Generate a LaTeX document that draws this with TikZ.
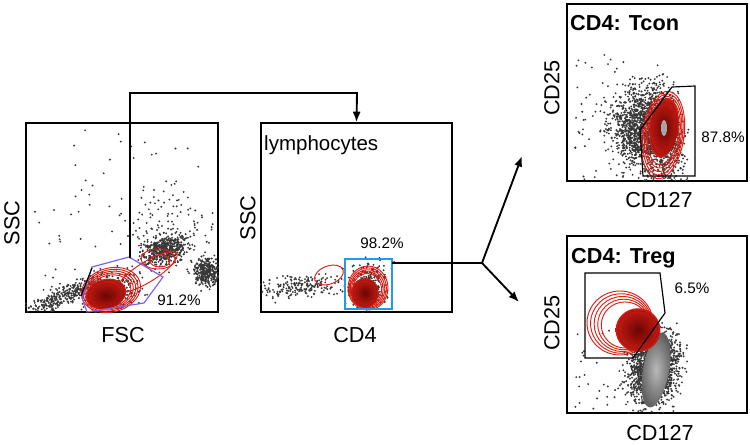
\documentclass[tikz,border=0pt]{standalone}
\usepackage{fontspec}
\setmainfont{Liberation Sans}
\usetikzlibrary{arrows.meta}

\definecolor{ringred}{RGB}{225,30,20}
\definecolor{corered}{RGB}{105,6,3}
\definecolor{gatepurple}{RGB}{125,95,235}
\definecolor{gateblue}{RGB}{35,155,230}
\definecolor{dotgray}{RGB}{55,55,55}

\tikzset{
  panel/.style={draw, line width=1.3pt, inner sep=0pt},
  axlab/.style={font=\fontsize{18.5}{20}\selectfont},
  title/.style={font=\bfseries\fontsize{18.5}{20}\selectfont, anchor=base west, inner sep=0pt},
  pct/.style={font=\fontsize{13}{15}\selectfont},
  flow/.style={line width=1.6pt, -{Latex[length=9pt,width=7pt]}},
  ring/.style={draw=ringred, line width=0.8pt},
  gate/.style={line width=1pt},
}

% gaussian-ish cloud of events: cx, cy, sx, sy, tilt, count
\newcommand{\dotcloud}[6]{%
  \foreach \k in {1,...,#6}{%
    \pgfmathsetmacro\du{(rnd+rnd+rnd-1.5)*#3}%
    \pgfmathsetmacro\dv{(rnd+rnd+rnd-1.5)*#4}%
    \fill[dotgray] ({#1+(\du)*cos(#5)-(\dv)*sin(#5)},{#2+(\du)*sin(#5)+(\dv)*cos(#5)}) circle (0.9pt);
  }}
% uniform scatter: x0, x1, y0, y1, count
\newcommand{\dotspread}[5]{%
  \foreach \k in {1,...,#5}{%
    \fill[dotgray] ({#1+rnd*(#2-#1)},{#3+rnd*(#4-#3)}) circle (0.9pt);
  }}
% density contours: outer centre, core centre, rx, ry, tilt
\newcommand{\contours}[7]{%
  \foreach \t in {0,0.07,0.14,0.21,0.28}{%
    \draw[ring, rotate around={#7:({#1+\t*(#3-#1)},{#2+\t*(#4-#2)})}]
      ({#1+\t*(#3-#1)},{#2+\t*(#4-#2)}) ellipse ({#5*(1-\t)} and {#6*(1-\t)});
  }
  \shade[inner color=corered, outer color=ringred!90!black, rotate around={#7:(#3,#4)}]
    (#3,#4) ellipse ({#5*0.68} and {#6*0.68});
  \foreach \t in {0.45,0.6}{%
    \draw[ringred!70!black, line width=0.5pt, rotate around={#7:(#3,#4)}]
      (#3,#4) ellipse ({#5*\t} and {#6*\t});
  }
}

\begin{document}
\begin{tikzpicture}[x=0.03cm, y=-0.03cm]
    \useasboundingbox (0,0) rectangle (750,444);
    \pgfmathsetseed{7}

    % Panels
    \node[panel, minimum width=5.76cm, minimum height=5.67cm] (fsc) at (122,217.5) {};
    \node[panel, minimum width=5.73cm, minimum height=5.67cm] (lym) at (356.5,217.5) {};
    \node[panel, minimum width=5.4cm, minimum height=5.31cm] (tcon) at (657,92.5) {};
    \node[panel, minimum width=5.4cm, minimum height=5.31cm] (treg) at (657,324.5) {};

    % FSC / SSC
    \begin{scope}
        \clip (fsc.south west) rectangle (fsc.north east);
        \dotspread{70}{215}{128}{250}{40}
        \dotspread{35}{90}{200}{290}{15}
        \dotcloud{165}{228}{45}{38}{0}{110}
        \dotcloud{62}{297}{42}{9}{-23}{320}
        \dotcloud{165}{250}{22}{14}{-15}{480}
        \dotcloud{206}{272}{13}{14}{-30}{320}
        \dotcloud{112}{290}{32}{20}{-15}{200}
        \draw[ring, rotate around={32:(147,272)}] (147,272) ellipse (35 and 10);
        \draw[ring] (158,259) ellipse (17 and 10);
        \draw[ring] (160,261) ellipse (10 and 6);
        \contours{111}{290}{106}{294}{30}{22}{15}
        \draw[gatepurple, gate] (82,298) -- (92,267) -- (129,257) -- (163,277) -- (144,303) -- (87,312) -- cycle;
        \draw[gate] (81,296) -- (92,268);
    \end{scope}
    \node[axlab, rotate=90] (ssc1) at (12,223) {SSC};
    \node[axlab] (fsclab) at (123,335) {FSC};
    \node[pct] (p912) at (179,300) {91.2\%};

    % lymphocytes
    \begin{scope}
        \clip (lym.south west) rectangle (lym.north east);
        \dotcloud{303}{286}{42}{11}{-5}{200}
        \dotspread{340}{395}{255}{300}{25}
        \dotcloud{367}{287}{18}{20}{0}{260}
        \draw[ring, rotate around={20:(329,275)}] (329,275) ellipse (15 and 9);
        \contours{368}{288}{365}{293}{20}{22}{0}
        \draw[gateblue, line width=1.1pt] (345,259) rectangle (392,309);
    \end{scope}
    \node[title, font=\fontsize{17.5}{19}\selectfont] (lymtitle) at (264,150) {lymphocytes};
    \node[axlab, rotate=90] (ssc2) at (248,218) {SSC};
    \node[axlab] (cd4) at (355,335) {CD4};
    \node[pct] (p982) at (382,243) {98.2\%};

    % CD4: Tcon
    \begin{scope}
        \clip (tcon.south west) rectangle (tcon.north east);
        \dotspread{575}{640}{55}{180}{60}
        \dotcloud{640}{130}{28}{38}{-10}{1100}
        \dotcloud{662}{133}{20}{48}{-8}{900}
        \contours{663}{135}{664}{128}{21}{44}{-8}
        \fill[gray!70] (664,128) ellipse (3 and 8);
        \draw[gate] (672,87) -- (695,86) -- (695,176) -- (643,176) -- (640,130) -- cycle;
    \end{scope}
    \node[title] (tcontitle) at (570,30) {CD4: Tcon};
    \node[axlab, rotate=90] (cd25a) at (552,88) {CD25};
    \node[axlab] (cd127a) at (659,200) {CD127};
    \node[pct] (p878) at (723,137) {87.8\%};

    % CD4: Treg
    \begin{scope}
        \clip (treg.south west) rectangle (treg.north east);
        \dotspread{575}{620}{330}{410}{25}
        \dotcloud{653}{367}{24}{36}{10}{1700}
        \shade[inner color=gray!55, outer color=gray!75!black, rotate around={-10:(656,370)}] (656,370) ellipse (13 and 38);
        \contours{620}{323}{638}{330}{33}{32}{0}
        \draw[gate] (585,273) -- (660,273) -- (665,313) -- (633,358) -- (585,358) -- cycle;
    \end{scope}
    \node[title] (tregtitle) at (571,263) {CD4: Treg};
    \node[axlab, rotate=90] (cd25b) at (552,323) {CD25};
    \node[axlab] (cd127b) at (660,433) {CD127};
    \node[pct] (p65) at (692,288) {6.5\%};

    % Gating flow
    \coordinate (fscgate) at (130,258);
    \coordinate (bend) at (357,93);
    \draw[flow] (fscgate) |- (bend) -- (lym.north);
    \coordinate (lymout) at (392,263);
    \coordinate (fork) at (482,263);
    \coordinate (totcon) at (522,156);
    \coordinate (totreg) at (519,302);
    \draw[line width=1.6pt] (lymout) -- (fork);
    \draw[flow] (fork) -- (totcon);
    \draw[flow] (fork) -- (totreg);
\end{tikzpicture}
\end{document}
